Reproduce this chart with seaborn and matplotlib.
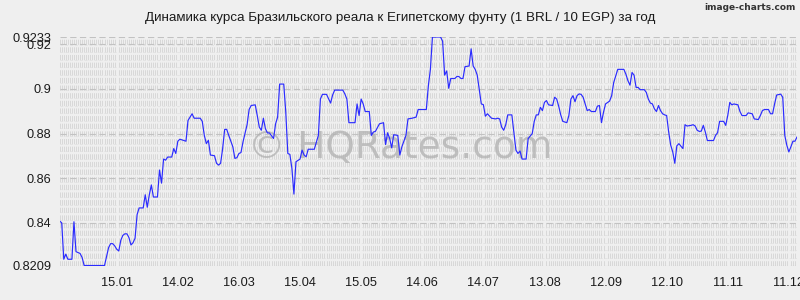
import numpy as np
import pandas as pd
import seaborn as sns
import matplotlib
matplotlib.use("Agg")
import matplotlib.pyplot as plt
from matplotlib.ticker import FixedLocator, MultipleLocator

title = "Динамика курса Бразильского реала к Египетскому фунту (1 BRL / 10 EGP) за год"

days = [0, 1, 2, 3, 4, 6, 7, 8, 10, 11, 12, 22, 24, 25, 26, 27, 28, 29, 30, 31,
        32, 33, 34, 35, 36, 37, 38, 39, 41, 42, 43, 44, 45, 46, 48, 49, 50, 51, 52, 53,
        55, 56, 57, 58, 59, 62, 63, 64, 65, 66, 69, 70, 71, 72, 73, 74, 76, 77, 78, 79,
        80, 81, 82, 83, 85, 86, 87, 88, 89, 90, 92, 93, 94, 96, 97, 98, 99, 100, 101, 102,
        103, 105, 106, 107, 108, 110, 111, 112, 113, 114, 115, 116, 118, 119, 120, 121, 122, 125, 127, 128,
        129, 131, 133, 134, 135, 139, 140, 141, 142, 145, 146, 147, 148, 149, 150, 152, 153, 154, 155, 157,
        159, 160, 161, 162, 163, 164, 166, 167, 168, 170, 171, 173, 175, 176, 180, 181, 182, 183, 187, 188,
        189, 190, 191, 192, 194, 195, 196, 197, 198, 199, 201, 202, 203, 204, 205, 207, 208, 209, 210, 212,
        214, 215, 216, 217, 218, 219, 220, 222, 223, 224, 225, 226, 227, 229, 230, 231, 232, 233, 234, 235,
        236, 237, 238, 239, 240, 242, 243, 244, 245, 246, 247, 249, 250, 251, 252, 253, 254, 255, 256, 257,
        258, 259, 260, 261, 263, 264, 265, 266, 267, 268, 270, 271, 272, 273, 274, 277, 278, 279, 280, 281,
        282, 283, 284, 285, 287, 288, 289, 290, 291, 292, 293, 294, 295, 296, 297, 298, 299, 300, 301, 302,
        303, 304, 306, 307, 308, 310, 311, 312, 313, 314, 315, 316, 317, 318, 321, 322, 323, 324, 326, 327,
        328, 329, 330, 331, 333, 334, 335, 337, 338, 340, 341, 343, 344, 345, 346, 348, 349, 350, 351, 352,
        354, 355, 356, 357, 358, 359, 360, 361, 362]

rates = [0.8408, 0.8400, 0.8237, 0.8260, 0.8237, 0.8237, 0.8405, 0.8271, 0.8263, 0.8245, 0.8209, 0.8209, 0.8289, 0.8307, 0.8307, 0.8297, 0.8282, 0.8274, 0.8322, 0.8344,
         0.8351, 0.8351, 0.8334, 0.8301, 0.8311, 0.8331, 0.8437, 0.8467, 0.8467, 0.8526, 0.8470, 0.8526, 0.8570, 0.8516, 0.8516, 0.8637, 0.8578, 0.8686, 0.8681, 0.8695,
         0.8695, 0.8733, 0.8711, 0.8766, 0.8775, 0.8766, 0.8859, 0.8874, 0.8889, 0.8869, 0.8869, 0.8855, 0.8792, 0.8755, 0.8770, 0.8704, 0.8701, 0.8667, 0.8659, 0.8667,
         0.8733, 0.8819, 0.8819, 0.8792, 0.8741, 0.8689, 0.8692, 0.8711, 0.8715, 0.8763, 0.8840, 0.8908, 0.8926, 0.8929, 0.8881, 0.8829, 0.8815, 0.8869, 0.8822, 0.8803,
         0.8803, 0.8778, 0.8844, 0.8874, 0.9022, 0.9022, 0.8896, 0.8711, 0.8707, 0.8645, 0.8529, 0.8674, 0.8686, 0.8726, 0.8704, 0.8696, 0.8730, 0.8730, 0.8792, 0.8955,
         0.8976, 0.8976, 0.8937, 0.8973, 0.8995, 0.8995, 0.8978, 0.8955, 0.8849, 0.8849, 0.8933, 0.8881, 0.8955, 0.8933, 0.8899, 0.8899, 0.8792, 0.8807, 0.8810, 0.8844,
         0.8849, 0.8751, 0.8804, 0.8778, 0.8736, 0.8795, 0.8792, 0.8704, 0.8741, 0.8792, 0.8866, 0.8869, 0.8874, 0.8908, 0.8908, 0.9014, 0.9088, 0.9233, 0.9233, 0.9214,
         0.9062, 0.9081, 0.9003, 0.9047, 0.9047, 0.9056, 0.9056, 0.9047, 0.9047, 0.9100, 0.9103, 0.9180, 0.9103, 0.9088, 0.9062, 0.8933, 0.8930, 0.8878, 0.8889, 0.8869,
         0.8866, 0.8869, 0.8866, 0.8829, 0.8815, 0.8840, 0.8884, 0.8884, 0.8807, 0.8726, 0.8711, 0.8722, 0.8686, 0.8686, 0.8778, 0.8789, 0.8800, 0.8855, 0.8884, 0.8884,
         0.8918, 0.8903, 0.8940, 0.8948, 0.8929, 0.8926, 0.8963, 0.8955, 0.8923, 0.8884, 0.8855, 0.8849, 0.8881, 0.8955, 0.8970, 0.8943, 0.8970, 0.8978, 0.8976, 0.8963,
         0.8933, 0.8903, 0.8908, 0.8899, 0.8899, 0.8923, 0.8926, 0.8849, 0.8896, 0.8933, 0.8946, 0.8970, 0.9029, 0.9059, 0.9088, 0.9088, 0.9066, 0.9037, 0.9017, 0.9074,
         0.9062, 0.9007, 0.9007, 0.8997, 0.8997, 0.8985, 0.8955, 0.8937, 0.8933, 0.8911, 0.8899, 0.8926, 0.8903, 0.8889, 0.8884, 0.8881, 0.8807, 0.8748, 0.8718, 0.8667,
         0.8745, 0.8755, 0.8733, 0.8840, 0.8834, 0.8837, 0.8840, 0.8834, 0.8815, 0.8810, 0.8811, 0.8837, 0.8807, 0.8769, 0.8769, 0.8792, 0.8804, 0.8855, 0.8855, 0.8837,
         0.8881, 0.8940, 0.8929, 0.8933, 0.8929, 0.8899, 0.8881, 0.8881, 0.8893, 0.8889, 0.8866, 0.8863, 0.8881, 0.8903, 0.8908, 0.8908, 0.8889, 0.8889, 0.8933, 0.8973,
         0.8977, 0.8963, 0.8792, 0.8748, 0.8718, 0.8741, 0.8766, 0.8766, 0.8785]

tick_days = [28, 58, 88, 118, 148, 178, 208, 238, 268, 298, 328, 358]
tick_labels = ["15.01", "14.02", "16.03", "15.04", "15.05", "14.06", "14.07",
               "13.08", "12.09", "12.10", "11.11", "11.12"]
y_ticks = [0.8209, 0.84, 0.86, 0.88, 0.9, 0.92, 0.9233]
y_labels = ["0.8209", "0.84", "0.86", "0.88", "0.9", "0.92", "0.9233"]

df = pd.DataFrame({"day": days, "rate": rates})

sns.set_style("white", {"axes.facecolor": "#efefef", "figure.facecolor": "#efefef"})
plt.rcParams["font.family"] = ["Liberation Sans", "DejaVu Sans"]
plt.rcParams["lines.scale_dashes"] = False

fig = plt.figure(figsize=(8, 3), dpi=100)
ax = fig.add_axes([59.7 / 800, 34.5 / 300, (797 - 59.7) / 800, (265.5 - 37) / 300])

ymin, ymax = min(rates), max(rates)
ax.set_xlim(min(days), max(days))
ax.set_ylim(ymin, ymax)

# fine texture grid
ax.xaxis.set_minor_locator(MultipleLocator(1))
ax.yaxis.set_minor_locator(FixedLocator(np.linspace(ymin, ymax, 31)))
ax.grid(which="minor", axis="x", color="#d6d6d6", linewidth=0.65,
        linestyle=(0, (3.8, 1.7)))
ax.grid(which="minor", axis="y", color="#e0e0e0", linewidth=0.5,
        linestyle=(0, (2.0, 1.5)))
ax.grid(which="major", axis="y", color="#c2c2c2", linewidth=0.8,
        linestyle=(0, (4.5, 2.5)))
ax.set_axisbelow(True)

sns.lineplot(data=df, x="day", y="rate", ax=ax, color="#2b2bff", linewidth=0.85)

ax.set_xticks(tick_days)
ax.set_xticklabels(tick_labels)
ax.set_yticks(y_ticks)
ax.set_yticklabels(y_labels)
ax.tick_params(axis="both", which="both", length=0, labelsize=9.2, colors="#1a1a1a")
ax.tick_params(axis="x", pad=8)
ax.tick_params(axis="y", pad=6)
ax.set_xlabel("")
ax.set_ylabel("")
for s in ax.spines.values():
    s.set_visible(False)

ax.text(0.462, 0.515, "© HQRates.com", transform=ax.transAxes, ha="center", va="center",
        fontsize=27, color="#b0b0b0", alpha=0.75, family=["DejaVu Sans"], zorder=1)

fig.text(0.5, 1 - 18 / 300, title, ha="center", va="center", fontsize=9.6, color="#1a1a1a")
fig.text(0.995, 1 - 8 / 300, "image-charts.com", ha="right", va="center", fontsize=6.5,
         color="#333333", family=["DejaVu Sans"], fontweight="bold")

fig.savefig("out.png", dpi=100, facecolor=fig.get_facecolor())
